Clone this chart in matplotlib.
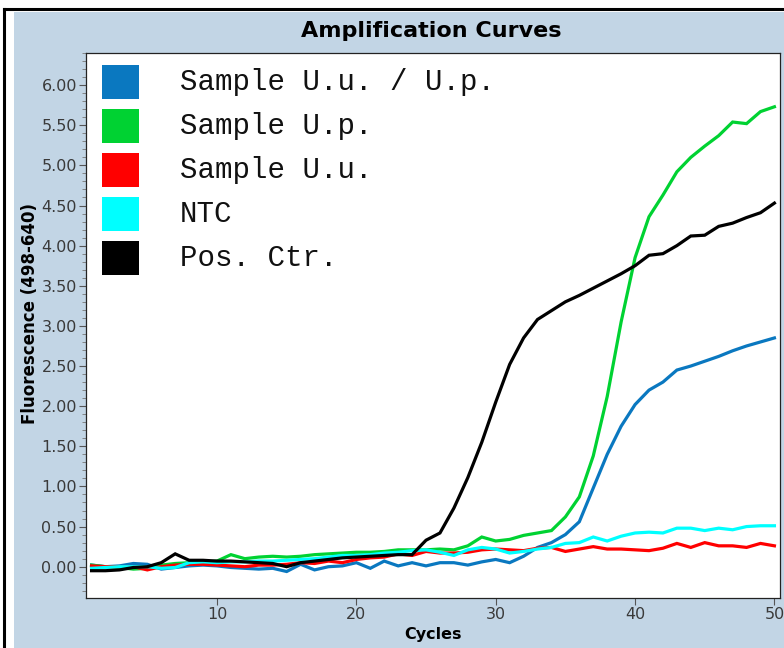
import matplotlib.pyplot as plt
import numpy as np
from matplotlib.lines import Line2D
from matplotlib.patches import Rectangle
from matplotlib.ticker import MultipleLocator, FormatStrFormatter

cycles = np.arange(1, 51)

series_names = ["Sample U.u. / U.p.", "Sample U.p.", "Sample U.u.", "NTC", "Pos. Ctr."]
series_colors = ["#0A78C0", "#00D232", "#FF0000", "#00FFFF", "#000000"]

uu_up = [0.02, 0.00, 0.01, 0.04, 0.03, -0.03, -0.01, 0.01, 0.02, 0.01,
         -0.01, -0.02, -0.03, -0.02, -0.06, 0.03, -0.04, 0.00, 0.01, 0.05,
         -0.02, 0.07, 0.01, 0.05, 0.01, 0.05, 0.05, 0.02, 0.06, 0.09,
         0.05, 0.13, 0.24, 0.30, 0.40, 0.56, 0.98, 1.40, 1.75, 2.02,
         2.20, 2.30, 2.45, 2.50, 2.56, 2.62, 2.69, 2.75, 2.80, 2.85]

up = [0.02, 0.00, -0.01, -0.03, -0.02, 0.02, 0.04, 0.05, 0.06, 0.07,
      0.15, 0.10, 0.12, 0.13, 0.12, 0.13, 0.15, 0.16, 0.17, 0.18,
      0.18, 0.19, 0.21, 0.21, 0.21, 0.22, 0.21, 0.26, 0.37, 0.32,
      0.34, 0.39, 0.42, 0.45, 0.62, 0.87, 1.38, 2.12, 3.05, 3.85,
      4.36, 4.63, 4.92, 5.10, 5.24, 5.37, 5.54, 5.52, 5.67, 5.73]

uu = [0.01, 0.00, 0.00, 0.00, -0.04, 0.00, 0.02, 0.03, 0.03, 0.02,
      0.01, 0.00, 0.02, 0.02, 0.03, 0.05, 0.04, 0.07, 0.05, 0.09,
      0.11, 0.12, 0.16, 0.14, 0.19, 0.17, 0.17, 0.18, 0.21, 0.22,
      0.21, 0.20, 0.23, 0.24, 0.19, 0.22, 0.25, 0.22, 0.22, 0.21,
      0.20, 0.23, 0.29, 0.24, 0.30, 0.26, 0.26, 0.24, 0.29, 0.26]

ntc = [-0.02, -0.01, 0.00, 0.00, 0.00, -0.02, -0.01, 0.05, 0.06, 0.05,
       0.06, 0.06, 0.07, 0.07, 0.08, 0.09, 0.10, 0.12, 0.14, 0.14,
       0.15, 0.17, 0.18, 0.20, 0.21, 0.18, 0.14, 0.21, 0.24, 0.22,
       0.17, 0.19, 0.22, 0.24, 0.29, 0.30, 0.37, 0.32, 0.38, 0.42,
       0.43, 0.42, 0.48, 0.48, 0.45, 0.48, 0.46, 0.50, 0.51, 0.51]

pos_ctr = [-0.05, -0.05, -0.04, -0.01, 0.00, 0.05, 0.16, 0.08, 0.08, 0.07,
           0.07, 0.06, 0.05, 0.04, 0.00, 0.05, 0.07, 0.09, 0.11, 0.12,
           0.13, 0.14, 0.15, 0.15, 0.33, 0.42, 0.73, 1.11, 1.55, 2.05,
           2.52, 2.85, 3.08, 3.19, 3.30, 3.38, 3.47, 3.56, 3.65, 3.75,
           3.88, 3.90, 4.00, 4.12, 4.13, 4.24, 4.28, 4.35, 4.41, 4.53]

all_series = [uu_up, up, uu, ntc, pos_ctr]

W, H = 784, 648
fig = plt.figure(figsize=(W / 100, H / 100), dpi=100, facecolor="white")

# panel background and outer frame
fig.patches.append(Rectangle((14 / W, 0), 1, (H - 12) / H, transform=fig.transFigure,
                             facecolor="#C2D5E5", edgecolor="none", zorder=-5))
fig.add_artist(Line2D([4 / W, 4 / W], [0, (H - 9) / H], transform=fig.transFigure,
                      color="black", lw=2.2, zorder=-4))
fig.add_artist(Line2D([4 / W, 1], [(H - 9) / H, (H - 9) / H], transform=fig.transFigure,
                      color="black", lw=2.2, zorder=-4))

ax_l, ax_r, ax_t, ax_b = 86, 780, 53, 598
ax = fig.add_axes([ax_l / W, (H - ax_b) / H, (ax_r - ax_l) / W, (ax_b - ax_t) / H])
ax.set_facecolor("white")

for vals, color in zip(all_series, series_colors):
    ax.plot(cycles, vals, color=color, lw=2.3, solid_joinstyle="miter")

ax.set_xlim(0.6, 50.4)
ax.set_ylim(-0.39, 6.40)
ax.xaxis.set_major_locator(MultipleLocator(10))
ax.yaxis.set_major_locator(MultipleLocator(0.5))
ax.yaxis.set_minor_locator(MultipleLocator(0.1))
ax.yaxis.set_major_formatter(FormatStrFormatter("%.2f"))
ax.tick_params(axis="both", which="major", length=5, width=0.8, color="#555555",
               labelcolor="#3a3a3a", labelsize=11.5, pad=1.5)
ax.tick_params(axis="y", which="minor", length=3, width=0.6, color="#777777")
for lab in ax.get_xticklabels() + ax.get_yticklabels():
    lab.set_family("DejaVu Sans")
for sp in ax.spines.values():
    sp.set_color("#222222")
    sp.set_linewidth(0.9)

# legend drawn inside the plot frame
aw, ah = ax_r - ax_l, ax_b - ax_t
for i, (name, color) in enumerate(zip(series_names, series_colors)):
    yc = 1 - (82 + 44 * i - ax_t) / ah
    ax.add_patch(Rectangle(((102 - ax_l) / aw, yc - 17 / ah), 37 / aw, 34 / ah,
                           transform=ax.transAxes, facecolor=color, edgecolor="none"))
    ax.text((180 - ax_l) / aw, yc, name, transform=ax.transAxes, va="center", ha="left",
            family="Liberation Mono", fontsize=21, color="#111111")

fig.text(431 / W, 1 - 31 / H, "Amplification Curves", ha="center", va="center",
         family="DejaVu Sans", fontweight="bold", fontsize=16)
fig.text(30 / W, 1 - 314 / H, "Fluorescence (498-640)", ha="center", va="center",
         rotation=90, family="DejaVu Sans", fontweight="bold", fontsize=12)
fig.text(433 / W, 1 - 634 / H, "Cycles", ha="center", va="center",
         family="DejaVu Sans", fontweight="bold", fontsize=11.5)

fig.savefig("out.png", dpi=100)
